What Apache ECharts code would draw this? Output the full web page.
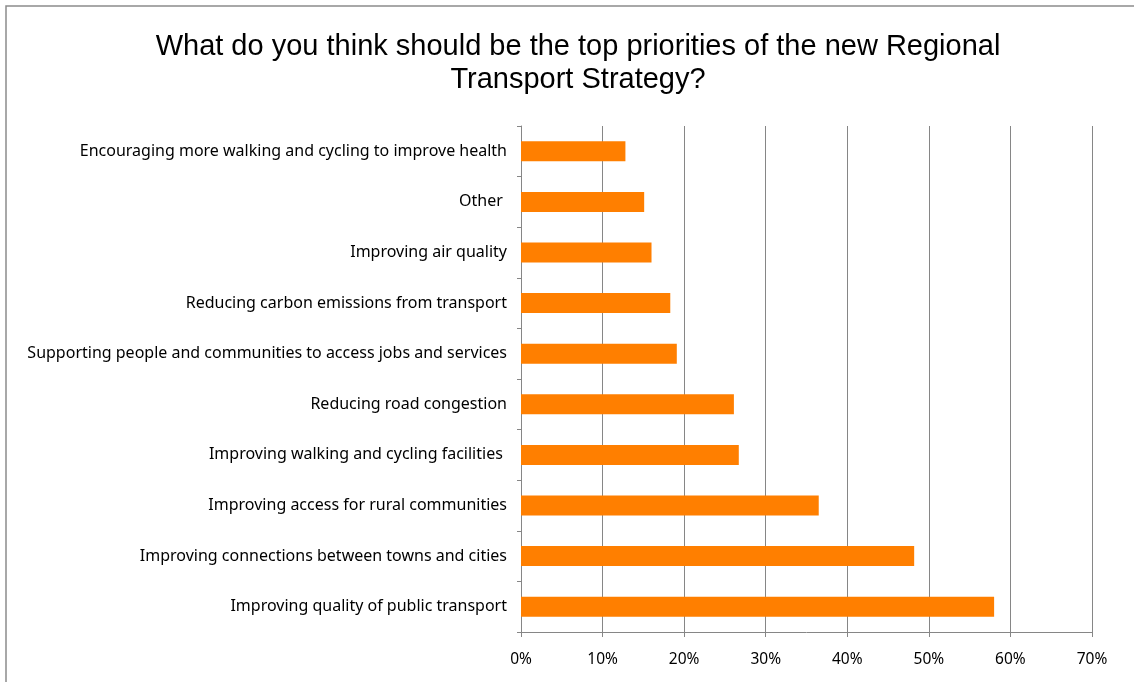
<!DOCTYPE html>
<html>
<head>
<meta charset="utf-8">
<script src="https://cdn.jsdelivr.net/npm/echarts@6/dist/echarts.min.js"></script>
<style>
  html, body { margin: 0; padding: 0; background: #fff; }
  #chart { width: 1134px; height: 682px; }
</style>
</head>
<body>
<div id="chart"></div>
<script>
// Survey responses: share of respondents choosing each priority
const priorities = [
  'Encouraging more walking and cycling to improve health',
  'Other ',
  'Improving air quality',
  'Reducing carbon emissions from transport',
  'Supporting people and communities to access jobs and services',
  'Reducing road congestion',
  'Improving walking and cycling facilities ',
  'Improving access for rural communities',
  'Improving connections between towns and cities',
  'Improving quality of public transport'
];
const shares = [12.8, 15.1, 16.0, 18.3, 19.1, 26.1, 26.7, 36.5, 48.2, 58.0];

const titleText = 'What do you think should be the top priorities of the new Regional\nTransport Strategy?';

const chart = echarts.init(document.getElementById('chart'));
const axisGray = '#868686';

chart.setOption({
  animation: false,
  backgroundColor: '#ffffff',
  title: {
    text: titleText,
    left: 573,
    top: 25,
    textAlign: 'center',
    textStyle: {
      fontFamily: 'Liberation Sans',
      fontSize: 29,
      fontWeight: 'normal',
      color: '#000',
      lineHeight: 33
    }
  },
  graphic: [{
    type: 'rect',
    shape: { x: 6, y: 6, width: 1140, height: 690 },
    style: { fill: 'none', stroke: '#8c8c8c', lineWidth: 1.5 },
    silent: true
  }],
  grid: { left: 521, right: 42, top: 126, bottom: 50, containLabel: false },
  xAxis: {
    type: 'value',
    min: 0,
    max: 70,
    interval: 10,
    axisLine: { show: true, lineStyle: { color: axisGray, width: 1 } },
    axisTick: { show: true, length: 5, lineStyle: { color: axisGray } },
    splitLine: { show: true, lineStyle: { color: axisGray, width: 1 } },
    axisLabel: {
      formatter: '{value}%',
      margin: 20,
      fontFamily: 'Noto Sans',
      fontSize: 15.5,
      color: '#000'
    }
  },
  yAxis: {
    type: 'category',
    data: priorities,
    inverse: true,
    axisLine: { show: true, lineStyle: { color: axisGray, width: 1 } },
    axisTick: { show: true, length: 4, lineStyle: { color: axisGray } },
    splitLine: { show: false },
    axisLabel: {
      margin: 14,
      fontFamily: 'Noto Sans',
      fontSize: 16,
      color: '#000'
    }
  },
  series: [{
    type: 'bar',
    data: shares,
    barWidth: 20,
    itemStyle: { color: '#ff7f00' }
  }]
});
</script>
</body>
</html>
